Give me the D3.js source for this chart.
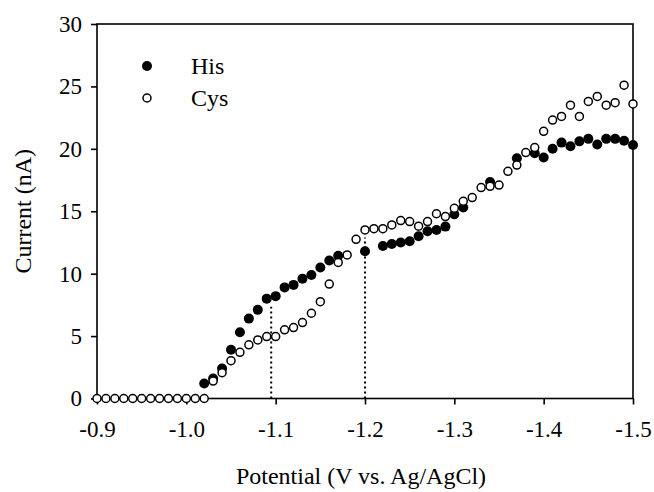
<!DOCTYPE html>
<html>
<head>
<meta charset="utf-8">
<script src="https://cdn.jsdelivr.net/npm/d3@7"></script>
<style>
  body { margin: 0; background: #fff; }
  svg text { font-family: "Liberation Serif", "Times New Roman", serif; fill: #000; }
</style>
</head>
<body>
<svg id="chart" width="654" height="492"></svg>
<script>
// potentials, -0.90 V down to -1.50 V in 0.01 V steps
var potentials = d3.range(0, 61).map(function(i) { return +(-0.9 - i * 0.01).toFixed(2); });

// Cys current (nA), one value per potential
var cysValues = [0, 0, 0, 0, 0, 0, 0, 0, 0, 0, 0, 0, 0,
    1.4, 2.07, 3.03, 3.7, 4.3, 4.69, 4.96, 4.96, 5.5, 5.68, 6.08, 6.83, 7.76, 9.17, 10.9, 11.5, 12.75,
    13.5, 13.6, 13.6, 13.9, 14.25, 14.17, 13.8, 14.17, 14.8, 14.57, 15.24, 15.8, 16.1, 16.9, 17.0, 17.1,
    18.2, 18.7, 19.7, 20.1, 21.4, 22.3, 22.6, 23.5, 22.6, 23.8, 24.2, 23.5, 23.7, 25.1, 23.6];

// His current (nA); null where no point is visible
var hisValues = [null, null, null, null, null, null, null, null, null, null, null, null,
    1.2, 1.6, 2.4, 3.9, 5.3, 6.4, 7.1, 8.0, 8.2, 8.9, 9.1, 9.6, 9.9, 10.5, 11.05, 11.43, null, null,
    11.8, null, 12.22, 12.38, 12.5, 12.6, 13.0, 13.4, 13.5, 13.77, 14.75, 15.3, null, null, 17.35, null,
    null, 19.24, null, 19.65, 19.3, 20.0, 20.5, 20.2, 20.6, 20.8, 20.35, 20.8, 20.8, 20.65, 20.3];

var xTicks = [-0.9, -1.0, -1.1, -1.2, -1.3, -1.4, -1.5];
var yTicks = [0, 5, 10, 15, 20, 25, 30];

// dotted guide lines: [potential, top current]
var guideLines = [[-1.095, 7.35], [-1.2, 12.9]];

var seriesNames = ["His", "Cys"];

var svg = d3.select("#chart");

var plotLeft = 97, plotRight = 633, plotTop = 24, plotBottom = 398.5;

var x = d3.scaleLinear().domain([-0.9, -1.5]).range([plotLeft, plotRight]);
var y = d3.scaleLinear().domain([0, 30]).range([plotBottom, plotTop]);

// frame
svg.append("rect")
    .attr("x", plotLeft).attr("y", plotTop)
    .attr("width", plotRight - plotLeft).attr("height", plotBottom - plotTop)
    .attr("fill", "none").attr("stroke", "#000").attr("stroke-width", 1.6);

var xAxis = svg.append("g")
    .attr("transform", "translate(0," + plotBottom + ")")
    .call(d3.axisBottom(x).tickValues(xTicks).tickSize(6).tickFormat(function(d) { return d.toFixed(1); }));
xAxis.select(".domain").remove();
xAxis.selectAll("line").attr("stroke", "#000").attr("stroke-width", 1.6);
xAxis.selectAll("text").attr("y", 38).attr("dy", 0).style("font-size", "23px");

var yAxis = svg.append("g")
    .attr("transform", "translate(" + plotLeft + ",0)")
    .call(d3.axisLeft(y).tickValues(yTicks).tickSize(6).tickPadding(9));
yAxis.select(".domain").remove();
yAxis.selectAll("line").attr("stroke", "#000").attr("stroke-width", 1.6);
yAxis.selectAll("text").style("font-size", "23px");

// guides
svg.selectAll(".guide")
    .data(guideLines)
    .enter().append("line")
    .attr("class", "guide")
    .attr("x1", function(d) { return x(d[0]); })
    .attr("x2", function(d) { return x(d[0]); })
    .attr("y1", y(0))
    .attr("y2", function(d) { return y(d[1]); })
    .attr("stroke", "#000").attr("stroke-width", 2)
    .attr("stroke-dasharray", "2,3");

var hisData = potentials.map(function(p, i) { return { x: p, y: hisValues[i] }; })
    .filter(function(d) { return d.y !== null; });
var cysData = potentials.map(function(p, i) { return { x: p, y: cysValues[i] }; });

svg.append("g").selectAll("circle")
    .data(hisData)
    .enter().append("circle")
    .attr("cx", function(d) { return x(d.x); })
    .attr("cy", function(d) { return y(d.y); })
    .attr("r", 5)
    .attr("fill", "#000");

svg.append("g").selectAll("circle")
    .data(cysData)
    .enter().append("circle")
    .attr("cx", function(d) { return x(d.x); })
    .attr("cy", function(d) { return y(d.y); })
    .attr("r", 4)
    .attr("fill", "#fff")
    .attr("stroke", "#000").attr("stroke-width", 1.5);

// legend
var legend = svg.append("g");
seriesNames.forEach(function(name, i) {
    var cy = 66 + i * 32;
    if (i === 0) {
        legend.append("circle").attr("cx", 147).attr("cy", cy).attr("r", 5).attr("fill", "#000");
    } else {
        legend.append("circle").attr("cx", 147).attr("cy", cy).attr("r", 4)
            .attr("fill", "#fff").attr("stroke", "#000").attr("stroke-width", 1.5);
    }
    legend.append("text").attr("x", 191).attr("y", cy + 8)
        .style("font-size", "24px").text(name);
});

// axis titles
svg.append("text")
    .attr("x", (plotLeft + plotRight) / 2 - 4).attr("y", 484)
    .attr("text-anchor", "middle")
    .style("font-size", "24px")
    .text("Potential (V vs. Ag/AgCl)");

svg.append("text")
    .attr("transform", "translate(31," + ((plotTop + plotBottom) / 2) + ") rotate(-90)")
    .attr("text-anchor", "middle")
    .style("font-size", "24px")
    .text("Current (nA)");
</script>
</body>
</html>
